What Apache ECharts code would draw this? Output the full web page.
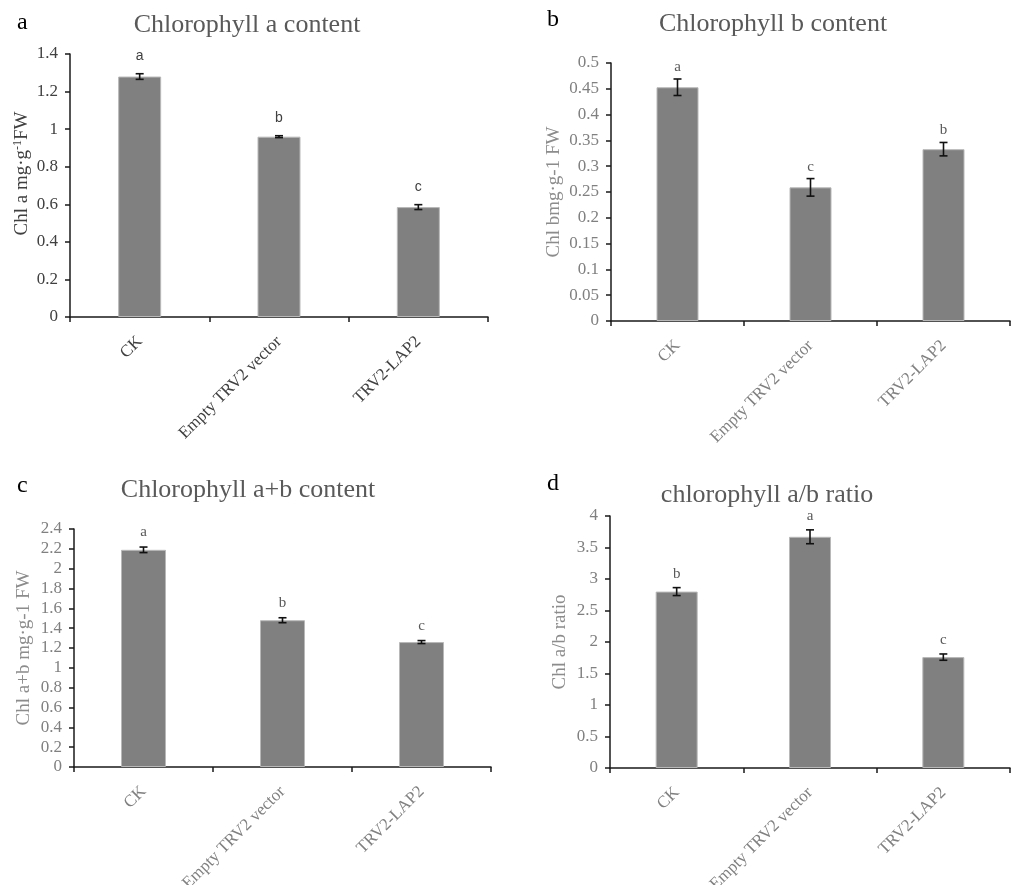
<!DOCTYPE html>
<html>
<head>
<meta charset="utf-8">
<script src="https://cdn.jsdelivr.net/npm/echarts@6/dist/echarts.min.js"></script>
<style>html,body{margin:0;padding:0;background:#fff}#c{width:1011px;height:885px}</style>
</head>
<body>
<div id="c"></div>
<script>
const categories = ['CK', 'Empty TRV2 vector', 'TRV2-LAP2'];

const chlA = [1.28, 0.96, 0.585];
const chlAErr = [0.015, 0.005, 0.013];
const chlALetters = ['a', 'b', 'c'];

const chlB = [0.453, 0.259, 0.333];
const chlBErr = [0.016, 0.017, 0.013];
const chlBLetters = ['a', 'c', 'b'];

const chlAB = [2.19, 1.48, 1.26];
const chlABErr = [0.028, 0.025, 0.015];
const chlABLetters = ['a', 'b', 'c'];

const ratioAB = [2.80, 3.67, 1.76];
const ratioABErr = [0.063, 0.11, 0.05];
const ratioABLetters = ['b', 'a', 'c'];

const SERIF = '"Liberation Serif", "Times New Roman", serif';
const SANS = '"Liberation Sans", Arial, sans-serif';

const panels = [
  { grid: { left: 70, top: 54, width: 418, height: 263 }, max: 1.4, interval: 0.2,
    values: chlA, errs: chlAErr, letters: chlALetters, barWidth: 43,
    name: 'Chl a mg·g{s|-1}FW', nameGap: 38, namePad: [0, 0, 0, 24],
    labelColor: '#404040', nameColor: '#404040',
    letterFont: SANS, letterColor: '#404040', letterSize: 14, letterGap: 18 },
  { grid: { left: 611, top: 63, width: 399, height: 258 }, max: 0.5, interval: 0.05,
    values: chlB, errs: chlBErr, letters: chlBLetters, barWidth: 42,
    name: 'Chl bmg·g-1 FW', nameGap: 47, namePad: [0, 0, 0, 0],
    labelColor: '#808080', nameColor: '#8c8c8c',
    letterFont: SERIF, letterColor: '#595959', letterSize: 15, letterGap: 12 },
  { grid: { left: 74, top: 529, width: 417, height: 238 }, max: 2.4, interval: 0.2,
    values: chlAB, errs: chlABErr, letters: chlABLetters, barWidth: 45,
    name: 'Chl a+b mg·g-1 FW', nameGap: 40, namePad: [0, 0, 0, 0],
    labelColor: '#808080', nameColor: '#8c8c8c',
    letterFont: SERIF, letterColor: '#595959', letterSize: 15, letterGap: 15 },
  { grid: { left: 610, top: 516, width: 400, height: 252 }, max: 4, interval: 0.5,
    values: ratioAB, errs: ratioABErr, letters: ratioABLetters, barWidth: 42,
    name: 'Chl a/b ratio', nameGap: 40, namePad: [0, 0, 0, 0],
    labelColor: '#808080', nameColor: '#8c8c8c',
    letterFont: SERIF, letterColor: '#595959', letterSize: 15, letterGap: 14 }
];

const titles = [
  { text: 'Chlorophyll a content', left: 247, top: 12 },
  { text: 'Chlorophyll b content', left: 773, top: 11 },
  { text: 'Chlorophyll a+b content', left: 248, top: 477 },
  { text: 'chlorophyll a/b ratio', left: 767, top: 482 }
];
const panelTags = [
  { text: 'a', left: 17, top: 11 },
  { text: 'b', left: 547, top: 8 },
  { text: 'c', left: 17, top: 474 },
  { text: 'd', left: 547, top: 472 }
];

const option = {
  backgroundColor: '#fff',
  animation: false,
  title: titles.map(t => ({
    text: t.text, left: t.left, top: t.top, textAlign: 'center', padding: 0,
    textStyle: { fontFamily: SERIF, fontSize: 26, fontWeight: 'normal', color: '#595959' }
  })).concat(panelTags.map(t => ({
    text: t.text, left: t.left, top: t.top, padding: 0,
    textStyle: { fontFamily: SERIF, fontSize: 24, fontWeight: 'normal', color: '#000' }
  }))),
  grid: panels.map(p => Object.assign({ outerBoundsMode: 'none', containLabel: false }, p.grid)),
  xAxis: panels.map((p, i) => ({
    type: 'category', gridIndex: i, data: categories,
    axisLine: { lineStyle: { color: '#1a1a1a', width: 1.5 } },
    axisTick: { show: true, length: 5, lineStyle: { color: '#1a1a1a', width: 1.5 } },
    axisLabel: { interval: 0, rotate: 45, margin: 22, fontFamily: SERIF, fontSize: 17, color: p.labelColor },
    splitLine: { show: false }
  })),
  yAxis: panels.map((p, i) => ({
    type: 'value', gridIndex: i, min: 0, max: p.max, interval: p.interval,
    name: p.name, nameLocation: 'middle', nameGap: p.nameGap, nameRotate: 90,
    nameTextStyle: {
      fontFamily: SERIF, fontSize: 19, color: p.nameColor, padding: p.namePad,
      rich: { s: { fontFamily: SERIF, fontSize: 12, color: p.nameColor, padding: [0, 0, 8, 0] } }
    },
    axisLine: { show: true, lineStyle: { color: '#1a1a1a', width: 1.5 } },
    axisTick: { show: true, length: 5, lineStyle: { color: '#1a1a1a', width: 1.5 } },
    axisLabel: { margin: 12, fontFamily: SERIF, fontSize: 17, color: p.labelColor,
      formatter: v => String(parseFloat(v.toFixed(2))) },
    splitLine: { show: false }
  })),
  series: []
};

panels.forEach((p, i) => {
  option.series.push({
    type: 'bar', xAxisIndex: i, yAxisIndex: i, data: p.values, barWidth: p.barWidth,
    itemStyle: { color: '#808080', borderColor: '#b8b8b8', borderWidth: 1 },
    silent: true
  });
  option.series.push({
    type: 'custom', xAxisIndex: i, yAxisIndex: i, z: 10, silent: true,
    data: p.values.map((m, k) => [k, m, p.errs[k]]),
    renderItem: (params, api) => {
      const k = api.value(0), m = api.value(1), e = api.value(2);
      const top = api.coord([k, m + e]);
      const bot = api.coord([k, m - e]);
      const x = top[0], hw = 4;
      const st = { stroke: '#111', lineWidth: 1.6 };
      return {
        type: 'group',
        children: [
          { type: 'line', shape: { x1: x, y1: top[1], x2: x, y2: bot[1] }, style: st },
          { type: 'line', shape: { x1: x - hw, y1: top[1], x2: x + hw, y2: top[1] }, style: st },
          { type: 'line', shape: { x1: x - hw, y1: bot[1], x2: x + hw, y2: bot[1] }, style: st },
          { type: 'text', x: x, y: top[1] - p.letterGap,
            style: { text: p.letters[params.dataIndex], align: 'center', verticalAlign: 'middle',
              fontFamily: p.letterFont, fontSize: p.letterSize, fill: p.letterColor } }
        ]
      };
    }
  });
});

const chart = echarts.init(document.getElementById('c'), null, { renderer: 'canvas' });
chart.setOption(option);
</script>
</body>
</html>
